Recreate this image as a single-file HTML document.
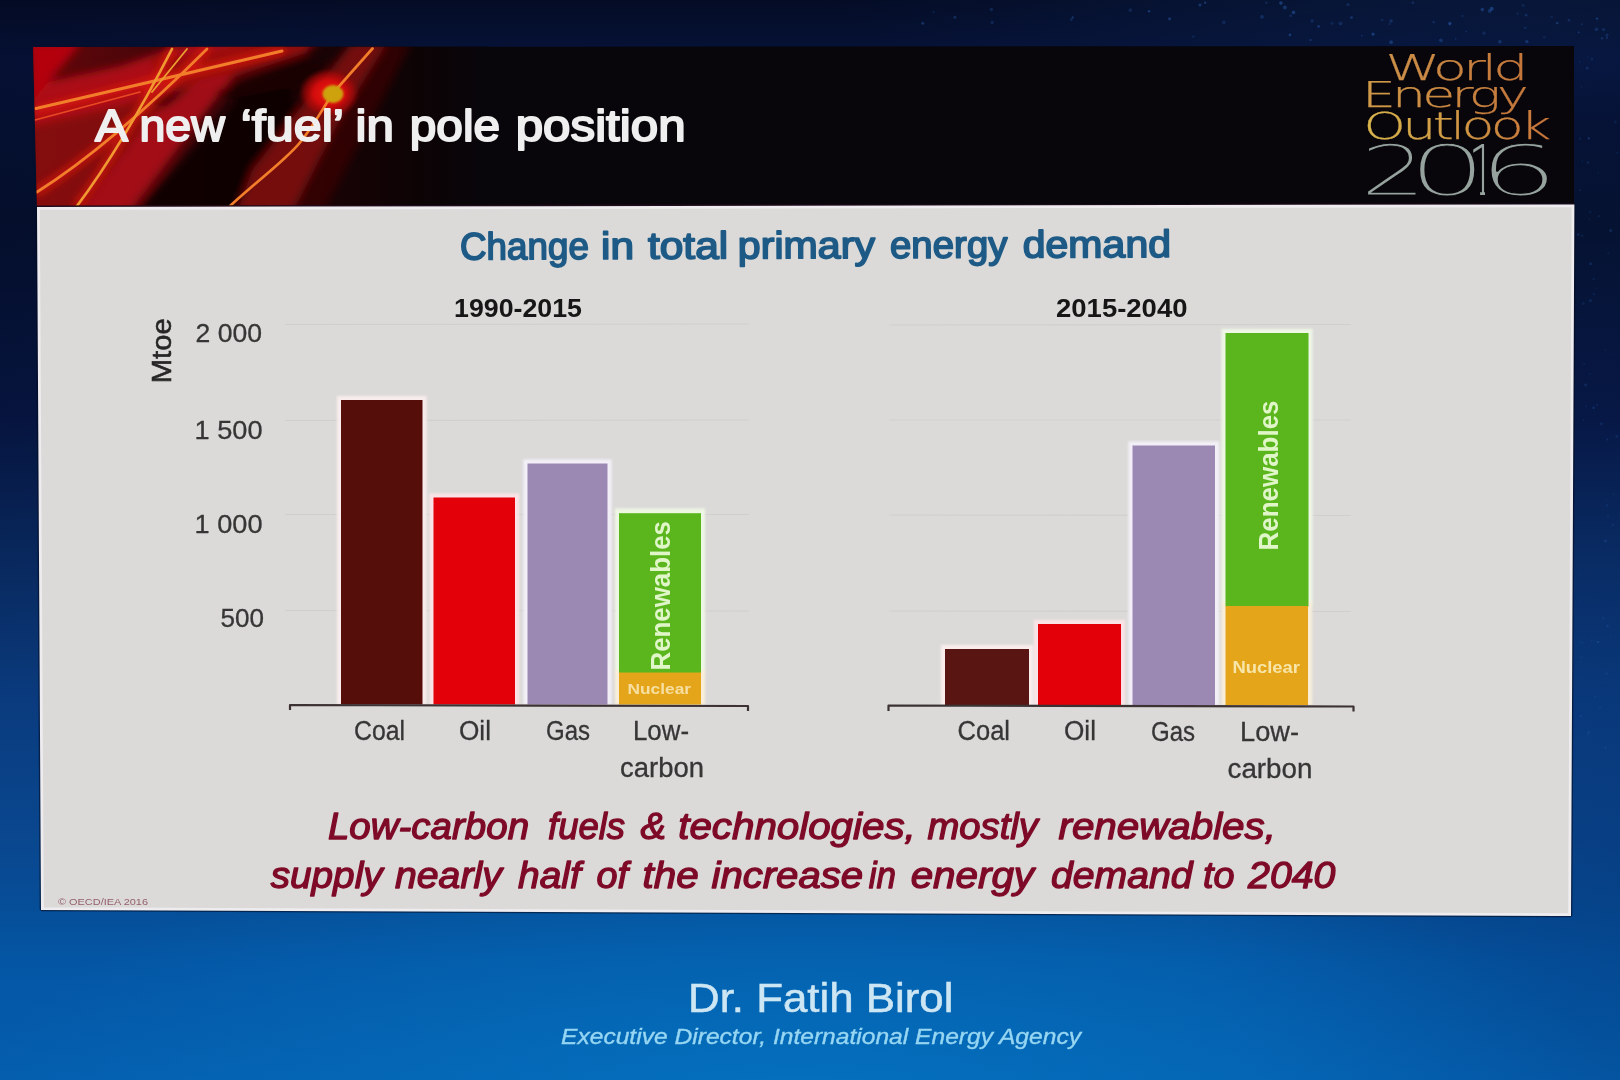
<!DOCTYPE html>
<html lang="en">
<head>
<meta charset="utf-8">
<title>A new 'fuel' in pole position</title>
<style>
html,body{margin:0;padding:0;width:1620px;height:1080px;overflow:hidden;background:#0a2a66;}
#stage{position:absolute;left:0;top:0;width:1620px;height:1080px;overflow:hidden;
  background:
    radial-gradient(ellipse 820px 300px at 800px 1110px, rgba(4,124,200,.62), rgba(4,124,200,0) 100%),
    radial-gradient(ellipse 500px 400px at 1700px 900px, rgba(4,40,100,.35), rgba(4,40,100,0) 100%),
    radial-gradient(ellipse 700px 150px at 1500px -30px, rgba(16,48,104,.36), rgba(16,48,104,0) 100%),
    radial-gradient(ellipse 500px 500px at -60px 200px, rgba(2,6,30,.35), rgba(2,6,30,0) 100%),
    linear-gradient(180deg,#040c25 0px,#06133a 60px,#051231 220px,#071846 420px,#092c64 560px,#0a3b7e 700px,#094890 850px,#064e98 910px,#0456a4 960px,#045eae 1080px);
}
svg{position:absolute;left:0;top:0;filter:blur(.55px);}
text{font-family:"Liberation Sans",sans-serif;}
.b{font-weight:700;}
.cat{font-size:27px;fill:#363636;stroke:#363636;stroke-width:.3px;}
.ax{font-size:26px;fill:#363636;stroke:#363636;stroke-width:.3px;}
.yr{font-size:26px;font-weight:700;fill:#161616;}
.cap{font-size:36px;font-style:italic;fill:#7e0a28;stroke:#7e0a28;stroke-width:1.3px;stroke-linejoin:round;}
.logo{font-family:"DejaVu Sans Light","DejaVu Sans",sans-serif;font-weight:200;}
#weo-year{position:absolute;left:0;top:130px;height:82px;line-height:82px;white-space:nowrap;font-family:"DejaVu Sans Light","DejaVu Sans",sans-serif;font-weight:200;font-size:70px;color:#96a29d;-webkit-text-stroke:1.1px #08060b;filter:blur(.75px);}
#weo-year .d{display:inline-block;width:0;transform-origin:0 0;}
#weo-year .d2{transform:translateX(1360px) scaleX(1.5);}
#weo-year .d0{transform:translateX(1408.2px) scaleX(1.76);}
#weo-year .d1{transform:translateX(1468.6px) scaleX(.62);-webkit-text-stroke:0;clip-path:polygon(0px 0px,40px 0px,40px 62px,26.5px 62px,26.5px 82px,18.5px 82px,18.5px 62px,0px 62px);}
#weo-year .d6{transform:translateX(1478.3px) scaleX(1.81);}
</style>
</head>
<body>
<div id="stage">
<svg width="1620" height="1080" viewBox="0 0 1620 1080">
<defs>
  <linearGradient id="hdr" x1="0" y1="0" x2="1" y2="0">
    <stop offset="0" stop-color="#c40f16"/>
    <stop offset="0.06" stop-color="#b00c12"/>
    <stop offset="0.14" stop-color="#7a0709"/>
    <stop offset="0.22" stop-color="#3a0305"/>
    <stop offset="0.30" stop-color="#0c0406"/>
    <stop offset="1" stop-color="#07060c"/>
  </linearGradient>
  <linearGradient id="logoG" x1="0" y1="0" x2="1" y2="0">
    <stop offset="0" stop-color="#e2b64a"/>
    <stop offset="0.5" stop-color="#dc9a42"/>
    <stop offset="1" stop-color="#d9783a"/>
  </linearGradient>
  <linearGradient id="lgW" gradientUnits="userSpaceOnUse" x1="1388" y1="0" x2="1524" y2="0"><stop offset="0" stop-color="#cc9048"/><stop offset="1" stop-color="#c4763a"/></linearGradient>
  <linearGradient id="lgE" gradientUnits="userSpaceOnUse" x1="1366" y1="0" x2="1524" y2="0"><stop offset="0" stop-color="#d09a48"/><stop offset="1" stop-color="#c4763a"/></linearGradient>
  <linearGradient id="lgO" gradientUnits="userSpaceOnUse" x1="1367" y1="0" x2="1547" y2="0"><stop offset="0" stop-color="#d8b44c"/><stop offset="0.5" stop-color="#d09844"/><stop offset="1" stop-color="#c8743a"/></linearGradient>
  <radialGradient id="glow" cx="0.5" cy="0.5" r="0.5">
    <stop offset="0" stop-color="#f01a10" stop-opacity="1"/>
    <stop offset="0.5" stop-color="#d80c0c" stop-opacity=".95"/>
    <stop offset="0.78" stop-color="#b00808" stop-opacity=".6"/>
    <stop offset="1" stop-color="#800606" stop-opacity="0"/>
  </radialGradient>
  <linearGradient id="hbase" x1="0" y1="0" x2="1" y2="0">
    <stop offset="0" stop-color="#66060a"/>
    <stop offset="0.3" stop-color="#420509"/>
    <stop offset="0.6" stop-color="#1c0305"/>
    <stop offset="0.85" stop-color="#0c0305"/>
    <stop offset="1" stop-color="#08060b"/>
  </linearGradient>
  <filter id="blur5" x="-10%" y="-10%" width="120%" height="120%"><feGaussianBlur stdDeviation="4"/></filter>
  <filter id="blur1h" x="-10%" y="-10%" width="120%" height="120%"><feGaussianBlur stdDeviation="1.1"/></filter>
  <filter id="blur1" x="-10%" y="-10%" width="120%" height="120%"><feGaussianBlur stdDeviation="0.6"/></filter>
  <clipPath id="oneclip"><polygon points="0,-60 40,-60 40,-8 26.5,-8 26.5,2 18.5,2 18.5,-8 0,-8"/></clipPath>
  <clipPath id="hclip"><polygon points="33,47 1574,46 1574,206 37,208"/></clipPath>
</defs>

<g id="specks" fill="#2c62b4" filter="url(#blur1)">
  <circle cx="922.8" cy="23.3" r="1.5" opacity="0.38"/>
  <circle cx="1200.0" cy="4.9" r="1.6" opacity="0.40"/>
  <circle cx="1193.3" cy="36.7" r="1.4" opacity="0.18"/>
  <circle cx="1482.3" cy="9.6" r="1.8" opacity="0.42"/>
  <circle cx="1351.5" cy="17.6" r="1.5" opacity="0.35"/>
  <circle cx="1382.1" cy="20.0" r="1.6" opacity="0.20"/>
  <circle cx="1312.1" cy="21.0" r="1.7" opacity="0.26"/>
  <circle cx="1466.3" cy="31.4" r="1.0" opacity="0.26"/>
  <circle cx="992.2" cy="22.5" r="1.7" opacity="0.25"/>
  <circle cx="1373.1" cy="34.1" r="1.7" opacity="0.49"/>
  <circle cx="1526.1" cy="15.2" r="1.4" opacity="0.30"/>
  <circle cx="1318.6" cy="26.4" r="1.4" opacity="0.40"/>
  <circle cx="1499.9" cy="41.7" r="1.7" opacity="0.38"/>
  <circle cx="1523.1" cy="5.4" r="1.6" opacity="0.20"/>
  <circle cx="1517.6" cy="13.7" r="1.1" opacity="0.26"/>
  <circle cx="991.4" cy="9.4" r="1.7" opacity="0.28"/>
  <circle cx="1389.6" cy="23.7" r="1.5" opacity="0.18"/>
  <circle cx="1455.6" cy="38.7" r="1.0" opacity="0.27"/>
  <circle cx="1169.6" cy="18.8" r="1.6" opacity="0.40"/>
  <circle cx="1348.1" cy="4.6" r="1.6" opacity="0.27"/>
  <circle cx="954.9" cy="17.3" r="1.5" opacity="0.33"/>
  <circle cx="1525.3" cy="27.8" r="1.4" opacity="0.22"/>
  <circle cx="1223.9" cy="22.3" r="1.9" opacity="0.24"/>
  <circle cx="1491.7" cy="8.8" r="2.0" opacity="0.48"/>
  <circle cx="1581.8" cy="24.2" r="0.9" opacity="0.33"/>
  <circle cx="1280.9" cy="3.1" r="1.8" opacity="0.49"/>
  <circle cx="1602.1" cy="38.3" r="1.4" opacity="0.27"/>
  <circle cx="1072.7" cy="17.4" r="1.1" opacity="0.48"/>
  <circle cx="1449.7" cy="24.4" r="1.1" opacity="0.37"/>
  <circle cx="1606.9" cy="37.8" r="1.1" opacity="0.35"/>
  <circle cx="1483.9" cy="33.1" r="1.9" opacity="0.22"/>
  <circle cx="1262.0" cy="16.9" r="1.8" opacity="0.34"/>
  <circle cx="1391.1" cy="42.2" r="1.9" opacity="0.41"/>
  <circle cx="1149.1" cy="11.3" r="1.2" opacity="0.47"/>
  <circle cx="1544.4" cy="37.3" r="1.4" opacity="0.19"/>
  <circle cx="1361.9" cy="35.6" r="0.9" opacity="0.34"/>
  <circle cx="1433.6" cy="22.1" r="1.4" opacity="0.28"/>
  <circle cx="1462.4" cy="16.0" r="1.1" opacity="0.29"/>
  <circle cx="1597.1" cy="18.6" r="1.2" opacity="0.45"/>
  <circle cx="1578.7" cy="32.4" r="0.9" opacity="0.42"/>
  <circle cx="1603.5" cy="29.6" r="1.8" opacity="0.22"/>
  <circle cx="1284.9" cy="7.5" r="1.9" opacity="0.41"/>
  <circle cx="1596.5" cy="29.3" r="1.9" opacity="0.27"/>
  <circle cx="1569.0" cy="20.2" r="1.3" opacity="0.31"/>
  <circle cx="1489.7" cy="10.9" r="2.0" opacity="0.37"/>
  <circle cx="1071.4" cy="19.6" r="1.3" opacity="0.32"/>
  <circle cx="1551.6" cy="16.9" r="1.2" opacity="0.20"/>
  <circle cx="1310.5" cy="40.0" r="1.0" opacity="0.45"/>
  <circle cx="1557.3" cy="23.1" r="1.2" opacity="0.48"/>
  <circle cx="1266.3" cy="2.8" r="1.2" opacity="0.27"/>
  <circle cx="1290.7" cy="15.7" r="1.5" opacity="0.24"/>
  <circle cx="1289.9" cy="34.9" r="1.3" opacity="0.49"/>
  <circle cx="1293.5" cy="12.4" r="1.9" opacity="0.44"/>
  <circle cx="1449.9" cy="23.3" r="1.6" opacity="0.47"/>
  <circle cx="1440.9" cy="40.3" r="1.9" opacity="0.36"/>
  <circle cx="1332.0" cy="23.2" r="1.7" opacity="0.20"/>
  <circle cx="1391.2" cy="21.0" r="1.7" opacity="0.32"/>
  <circle cx="1526.9" cy="41.6" r="1.7" opacity="0.39"/>
  <circle cx="933.5" cy="12.1" r="1.2" opacity="0.20"/>
  <circle cx="1130.3" cy="10.2" r="1.9" opacity="0.22"/>
  <circle cx="1412.9" cy="2.8" r="1.4" opacity="0.29"/>
  <circle cx="1205.1" cy="2.8" r="1.2" opacity="0.42"/>
  <circle cx="1340.5" cy="23.5" r="2.0" opacity="0.26"/>
  <circle cx="1607.0" cy="35.1" r="1.6" opacity="0.28"/>
  <circle cx="1582.2" cy="235.6" r="1.2" opacity="0.17"/>
  <circle cx="1579.6" cy="602.2" r="0.9" opacity="0.13"/>
  <circle cx="1588.8" cy="138.5" r="0.9" opacity="0.26"/>
  <circle cx="1594.9" cy="696.7" r="1.1" opacity="0.14"/>
  <circle cx="1610.8" cy="230.6" r="1.5" opacity="0.28"/>
  <circle cx="1584.0" cy="702.3" r="1.1" opacity="0.12"/>
  <circle cx="1600.8" cy="546.1" r="0.9" opacity="0.12"/>
  <circle cx="1581.6" cy="87.1" r="1.0" opacity="0.12"/>
  <circle cx="1605.5" cy="349.7" r="1.0" opacity="0.14"/>
  <circle cx="1580.9" cy="716.0" r="1.2" opacity="0.25"/>
  <circle cx="1603.4" cy="618.4" r="1.4" opacity="0.17"/>
  <circle cx="1581.3" cy="657.3" r="1.1" opacity="0.19"/>
  <circle cx="1580.7" cy="662.0" r="1.0" opacity="0.16"/>
  <circle cx="1596.2" cy="288.2" r="0.8" opacity="0.15"/>
  <circle cx="1600.1" cy="707.6" r="1.6" opacity="0.12"/>
  <circle cx="1588.7" cy="138.3" r="1.2" opacity="0.21"/>
  <circle cx="1599.1" cy="216.2" r="1.4" opacity="0.14"/>
  <circle cx="1582.4" cy="161.3" r="1.0" opacity="0.14"/>
  <circle cx="1580.0" cy="190.1" r="1.0" opacity="0.18"/>
  <circle cx="1590.5" cy="263.8" r="1.5" opacity="0.25"/>
  <circle cx="1608.4" cy="253.0" r="1.5" opacity="0.10"/>
  <circle cx="1598.0" cy="173.0" r="0.7" opacity="0.23"/>
  <circle cx="1591.9" cy="59.0" r="1.5" opacity="0.18"/>
  <circle cx="1588.0" cy="57.0" r="1.2" opacity="0.10"/>
  <circle cx="1607.3" cy="439.4" r="1.0" opacity="0.26"/>
  <circle cx="1585.6" cy="385.0" r="1.4" opacity="0.25"/>
  <circle cx="1615.4" cy="121.9" r="1.6" opacity="0.14"/>
  <circle cx="1610.8" cy="354.6" r="0.8" opacity="0.13"/>
  <circle cx="1597.8" cy="641.9" r="1.2" opacity="0.22"/>
  <circle cx="1593.7" cy="407.8" r="1.5" opacity="0.23"/>
  <circle cx="1605.5" cy="747.5" r="1.3" opacity="0.23"/>
  <circle cx="1591.7" cy="640.3" r="1.1" opacity="0.20"/>
  <circle cx="1606.3" cy="500.1" r="0.7" opacity="0.24"/>
  <circle cx="1594.2" cy="294.2" r="1.0" opacity="0.26"/>
  <circle cx="1580.2" cy="138.7" r="1.3" opacity="0.15"/>
  <circle cx="1580.8" cy="575.0" r="0.8" opacity="0.14"/>
  <circle cx="1588.2" cy="162.6" r="1.3" opacity="0.22"/>
  <circle cx="1581.4" cy="646.7" r="0.8" opacity="0.11"/>
  <circle cx="1612.8" cy="524.8" r="1.2" opacity="0.20"/>
  <circle cx="1589.3" cy="218.9" r="1.0" opacity="0.14"/>
  <circle cx="1589.7" cy="374.0" r="1.3" opacity="0.10"/>
  <circle cx="1584.3" cy="364.3" r="1.0" opacity="0.18"/>
  <circle cx="1588.5" cy="732.7" r="1.6" opacity="0.21"/>
  <circle cx="1616.9" cy="436.6" r="1.5" opacity="0.18"/>
  <circle cx="1587.8" cy="735.5" r="1.0" opacity="0.14"/>
  <circle cx="1590.4" cy="300.6" r="1.6" opacity="0.23"/>
  <circle cx="1578.0" cy="318.5" r="1.0" opacity="0.10"/>
  <circle cx="1597.0" cy="405.0" r="1.1" opacity="0.22"/>
  <circle cx="1586.0" cy="406.4" r="1.1" opacity="0.14"/>
  <circle cx="1578.2" cy="234.6" r="1.3" opacity="0.26"/>
  <circle cx="1581.6" cy="331.3" r="0.9" opacity="0.10"/>
  <circle cx="1579.7" cy="62.1" r="1.0" opacity="0.17"/>
  <circle cx="1590.2" cy="212.2" r="1.4" opacity="0.13"/>
  <circle cx="1601.4" cy="423.8" r="1.4" opacity="0.23"/>
  <circle cx="1608.0" cy="515.5" r="1.2" opacity="0.14"/>
  <circle cx="1606.6" cy="673.7" r="1.6" opacity="0.15"/>
  <circle cx="1593.6" cy="278.9" r="1.4" opacity="0.14"/>
  <circle cx="1617.4" cy="152.7" r="0.9" opacity="0.23"/>
  <circle cx="1607.0" cy="505.3" r="1.0" opacity="0.26"/>
  <circle cx="1579.8" cy="642.4" r="1.1" opacity="0.13"/>
  <circle cx="1613.7" cy="493.9" r="0.9" opacity="0.17"/>
  <circle cx="1607.4" cy="625.9" r="1.3" opacity="0.26"/>
  <circle cx="1583.6" cy="420.0" r="0.9" opacity="0.17"/>
  <circle cx="1598.2" cy="642.1" r="0.9" opacity="0.27"/>
  <circle cx="1610.2" cy="636.1" r="0.9" opacity="0.11"/>
  <circle cx="1601.4" cy="683.5" r="0.8" opacity="0.17"/>
  <circle cx="1605.3" cy="541.0" r="1.5" opacity="0.25"/>
  <circle cx="1587.2" cy="68.2" r="1.4" opacity="0.28"/>
  <circle cx="1583.3" cy="303.5" r="1.5" opacity="0.16"/>
  <circle cx="1582.2" cy="642.8" r="0.9" opacity="0.26"/>
</g>
<!-- slide: header band -->
<polygon points="33,47 1574,46 1574,206 37,208" fill="#08060b"/>
<g id="decor" clip-path="url(#hclip)">
  <rect x="30" y="40" width="460" height="175" fill="url(#hbase)"/>
  <g filter="url(#blur5)">
    <!-- left body -->
    <polygon points="30,120 130,100 175,108 80,214 30,214" fill="#8a0a0f" opacity=".85"/>
    <!-- band A: along the long shallow streak -->
    <polygon points="30,86 30,126 120,106 215,80 300,54 320,42 190,42 120,66" fill="#b00b13" opacity=".95"/>
    <polygon points="150,60 290,42 310,52 215,84 170,92" fill="#8c0a10" opacity=".7"/>
    <!-- top-left wedge -->
    <polygon points="30,42 82,42 30,104" fill="#b4060f"/>
    <!-- band B -->
    <polygon points="78,214 128,214 212,104 238,72 200,80 150,118" fill="#a60c13" opacity=".95"/>
    <!-- dark hollow between A and B top -->
    <polygon points="215,92 300,58 330,64 300,92 250,104" fill="#160305" opacity=".85"/>
    <!-- dark zone between B and C -->
    <polygon points="134,214 236,214 300,110 290,88 236,98" fill="#0e0204" opacity=".95"/>
    <!-- band C -->
    <polygon points="236,214 292,214 340,120 388,42 352,42 300,108 252,170" fill="#7e090d" opacity=".9"/>
    <polygon points="296,214 322,214 412,42 390,42 342,124" fill="#3a0508" opacity=".7"/>
  </g>
  <ellipse cx="329" cy="93" rx="31" ry="25" fill="url(#glow)"/>
  <!-- orange streaks -->
  <g stroke="#e81a10" stroke-width="7" fill="none" stroke-linecap="round" filter="url(#blur5)" opacity=".8">
    <path d="M37,111 L150,82 L282,50"/>
    <path d="M37,192 Q110,146 207,49"/>
    <path d="M77,206 Q122,146 172,49"/>
  </g>
  <g stroke="#f37e2c" stroke-width="2.7" fill="none" stroke-linecap="round" filter="url(#blur1)">
    <path d="M36,108.5 L150,82 L282,51" stroke-width="3"/>
    <path d="M37,192 Q110,146 207,49"/>
    <path d="M77,206 Q122,146 172,49" stroke="#f29a30"/>
    <path d="M152,92 L187,49" stroke="#eaa030" stroke-width="1.8"/>
    <path d="M230,206 C258,180 286,160 300,142.5 S322,110 333,93 L372.5,48.5"/>
    <path d="M35,120 L140,92" stroke="#e84a24" stroke-width="1.6"/>
  </g>
  <ellipse cx="333" cy="94" rx="10.5" ry="9" fill="#cda20e" filter="url(#blur1h)"/>
</g>
<polygon points="37,205.5 1574,203.5 1574,206 37,208" fill="#4a0d14"/>

<!-- slide: white body -->
<polygon points="38.4,208.4 1573,205.8 1569.6,914.6 42.4,908.6" fill="none" stroke="#030c22" stroke-opacity=".6" stroke-width="5.5" stroke-linejoin="round"/>
<polygon points="38.4,208.4 1573,205.8 1569.6,914.6 42.4,908.6" fill="#dbdad8" stroke="#eeecee" stroke-width="2.8"/>

<g id="chart">
  <!-- gridlines -->
  <g stroke="#d0cfce" stroke-width="1.1">
    <line x1="285" y1="324.5" x2="749" y2="324"/>
    <line x1="285" y1="420.5" x2="749" y2="420"/>
    <line x1="285" y1="514.5" x2="749" y2="514.5"/>
    <line x1="285" y1="610.5" x2="749" y2="611"/>
    <line x1="889" y1="325" x2="1351" y2="324.5"/>
    <line x1="889" y1="420" x2="1351" y2="420"/>
    <line x1="889" y1="515" x2="1351" y2="515.5"/>
    <line x1="889" y1="611" x2="1351" y2="611.5"/>
  </g>
  <!-- bar halos (photo sharpening artefact) -->
  <g filter="url(#blur1h)">
    <rect x="336.9" y="395.9" width="89.7" height="308.6" fill="#f8ecec"/>
    <rect x="429.4" y="493.4" width="89.7" height="211.1" fill="#fae3e6"/>
    <rect x="523.4" y="459.4" width="88.2" height="245.1" fill="#f3eff7"/>
    <rect x="614.9" y="508.4" width="90.2" height="166.1" fill="#eef6e4"/>
    <rect x="614.9" y="669.9" width="90.2" height="34.6" fill="#f8eeda"/>
    <rect x="940.9" y="644.9" width="92.2" height="60.1" fill="#f8ecec"/>
    <rect x="1033.9" y="619.9" width="91.2" height="85.1" fill="#fae3e6"/>
    <rect x="1128.4" y="441.4" width="90.7" height="263.6" fill="#f3eff7"/>
    <rect x="1221.4" y="328.9" width="91.2" height="277.6" fill="#eef6e4"/>
    <rect x="1221.4" y="601.9" width="90.7" height="103.1" fill="#f8eeda"/>
  </g>
  <!-- bars -->
  <g>
    <rect x="341" y="400" width="81.5" height="304.5" fill="#560e0a"/>
    <rect x="433.5" y="497.5" width="81.5" height="207" fill="#e30008"/>
    <rect x="527.5" y="463.5" width="80" height="241" fill="#9b88b3"/>
    <rect x="619" y="513.2" width="82" height="160" fill="#5ab61c"/>
    <rect x="619" y="672.5" width="82" height="32" fill="#e4a51b"/>
    <rect x="945" y="649" width="84" height="56" fill="#591512"/>
    <rect x="1038" y="624" width="83" height="81" fill="#e30008"/>
    <rect x="1132.5" y="445.5" width="82.5" height="259.5" fill="#9b88b3"/>
    <rect x="1225.5" y="333" width="83" height="273.5" fill="#5ab61c"/>
    <rect x="1225.5" y="606" width="82.5" height="99" fill="#e4a51b"/>
  </g>
  <!-- axes -->
  <g stroke="#3c3234" stroke-width="2.2" fill="none" stroke-linejoin="round">
    <path d="M290,710 L290,705 L748,706 L748,711"/>
    <path d="M888.5,711 L888.5,705.5 L1353.5,706.5 L1353.5,711.5"/>
  </g>
</g>
<g id="labels">
  <!-- header title -->
  <text y="140.5" class="sb" font-size="44" fill="#efefef" stroke="#efefef" stroke-width="1.9" stroke-linejoin="round"><tspan x="95.0" textLength="30.3" lengthAdjust="spacingAndGlyphs">A</tspan> <tspan x="139.4" textLength="85.4" lengthAdjust="spacingAndGlyphs">new</tspan> <tspan x="240.7" textLength="101.4" lengthAdjust="spacingAndGlyphs">‘fuel’</tspan> <tspan x="355.6" textLength="38.4" lengthAdjust="spacingAndGlyphs">in</tspan> <tspan x="409.8" textLength="90.3" lengthAdjust="spacingAndGlyphs">pole</tspan> <tspan x="515.7" textLength="169.9" lengthAdjust="spacingAndGlyphs">position</tspan></text>
  <!-- WEO logo -->
  <g class="logo" filter="url(#blur1)" stroke-width=".25">
    <text x="1385.5" y="80" font-size="35.5" letter-spacing="-2.5" textLength="139" lengthAdjust="spacingAndGlyphs" class="logo" fill="url(#lgW)" stroke="url(#lgW)">World</text>
    <text x="1362" y="107" font-size="35" letter-spacing="-2.5" textLength="163" lengthAdjust="spacingAndGlyphs" class="logo" fill="url(#lgE)" stroke="url(#lgE)">Energy</text>
    <text x="1363.5" y="138.5" font-size="36.5" letter-spacing="-2.5" textLength="184" lengthAdjust="spacingAndGlyphs" class="logo" fill="url(#lgO)" stroke="url(#lgO)">Outlook</text>
  </g>

  <!-- chart title -->
  <text y="259.5" class="sb" font-size="38" fill="#1e5a86" stroke="#1e5a86" stroke-width="1.7" stroke-linejoin="round" transform="rotate(-0.2 461 259.5)"><tspan x="459.9" textLength="129.1" lengthAdjust="spacingAndGlyphs">Change</tspan> <tspan x="601.0" textLength="33.1" lengthAdjust="spacingAndGlyphs">in</tspan> <tspan x="647.9" textLength="80.4" lengthAdjust="spacingAndGlyphs">total</tspan> <tspan x="737.8" textLength="137.2" lengthAdjust="spacingAndGlyphs">primary</tspan> <tspan x="890.0" textLength="117.5" lengthAdjust="spacingAndGlyphs">energy</tspan> <tspan x="1022.7" textLength="148.4" lengthAdjust="spacingAndGlyphs">demand</tspan></text>
  <text x="454" y="317" class="yr" textLength="128" lengthAdjust="spacingAndGlyphs">1990-2015</text>
  <text x="1056" y="317" class="yr" textLength="131.5" lengthAdjust="spacingAndGlyphs">2015-2040</text>

  <!-- y axis -->
  <text font-size="27" textLength="65" lengthAdjust="spacingAndGlyphs" transform="translate(171 383.3) rotate(-90)" fill="#262626" stroke="#262626" stroke-width=".55">Mtoe</text>
  <text x="195.5" y="342" class="ax" textLength="66.5" lengthAdjust="spacingAndGlyphs">2 000</text>
  <text x="194.5" y="438.5" class="ax" textLength="68" lengthAdjust="spacingAndGlyphs">1 500</text>
  <text x="194.5" y="532.5" class="ax" textLength="68" lengthAdjust="spacingAndGlyphs">1 000</text>
  <text x="220.5" y="627.3" class="ax" textLength="43.5" lengthAdjust="spacingAndGlyphs">500</text>

  <!-- categories left -->
  <text x="354" y="739.5" class="cat" textLength="51" lengthAdjust="spacingAndGlyphs">Coal</text>
  <text x="459" y="739.5" class="cat" textLength="32" lengthAdjust="spacingAndGlyphs">Oil</text>
  <text x="546" y="740" class="cat" textLength="44" lengthAdjust="spacingAndGlyphs">Gas</text>
  <text x="633" y="740" class="cat" textLength="56" lengthAdjust="spacingAndGlyphs">Low-</text>
  <text x="620" y="777" class="cat" textLength="84" lengthAdjust="spacingAndGlyphs">carbon</text>
  <!-- categories right -->
  <text x="957.5" y="740" class="cat" textLength="52.5" lengthAdjust="spacingAndGlyphs">Coal</text>
  <text x="1064" y="740" class="cat" textLength="32" lengthAdjust="spacingAndGlyphs">Oil</text>
  <text x="1151" y="741" class="cat" textLength="44" lengthAdjust="spacingAndGlyphs">Gas</text>
  <text x="1240" y="741" class="cat" textLength="59" lengthAdjust="spacingAndGlyphs">Low-</text>
  <text x="1227.5" y="777.5" class="cat" textLength="85" lengthAdjust="spacingAndGlyphs">carbon</text>

  <!-- in-bar labels -->
  <text class="b" font-size="27" fill="#e0f6c8" textLength="149.5" lengthAdjust="spacingAndGlyphs" transform="translate(669.5 670.5) rotate(-90)">Renewables</text>
  <text class="b" font-size="27.5" fill="#e0f6c8" textLength="150" lengthAdjust="spacingAndGlyphs" transform="translate(1277.5 550.5) rotate(-90)">Renewables</text>
  <text x="627.5" y="694" class="b" font-size="15.5" fill="#f6dfa0" textLength="63.5" lengthAdjust="spacingAndGlyphs">Nuclear</text>
  <text x="1232.5" y="672.5" class="b" font-size="16" fill="#f8e6a8" textLength="67.5" lengthAdjust="spacingAndGlyphs">Nuclear</text>

  <!-- caption -->
  <text y="838.5" class="cap"><tspan x="327.9" textLength="201.2" lengthAdjust="spacingAndGlyphs">Low-carbon</tspan> <tspan x="548.0" textLength="77.0" lengthAdjust="spacingAndGlyphs">fuels</tspan> <tspan x="640.6" textLength="25.5" lengthAdjust="spacingAndGlyphs">&amp;</tspan> <tspan x="678.2" textLength="237.6" lengthAdjust="spacingAndGlyphs">technologies,</tspan> <tspan x="927.5" textLength="110.4" lengthAdjust="spacingAndGlyphs">mostly</tspan> <tspan x="1058.5" textLength="217.4" lengthAdjust="spacingAndGlyphs">renewables,</tspan></text>
  <text y="887.5" class="cap"><tspan x="270.7" textLength="111.9" lengthAdjust="spacingAndGlyphs">supply</tspan> <tspan x="395.0" textLength="106.8" lengthAdjust="spacingAndGlyphs">nearly</tspan> <tspan x="518.0" textLength="62.7" lengthAdjust="spacingAndGlyphs">half</tspan> <tspan x="596.4" textLength="31.5" lengthAdjust="spacingAndGlyphs">of</tspan> <tspan x="642.5" textLength="56.1" lengthAdjust="spacingAndGlyphs">the</tspan> <tspan x="711.5" textLength="151.6" lengthAdjust="spacingAndGlyphs">increase</tspan> <tspan x="868.7" textLength="27.2" lengthAdjust="spacingAndGlyphs">in</tspan> <tspan x="910.7" textLength="123.3" lengthAdjust="spacingAndGlyphs">energy</tspan> <tspan x="1050.9" textLength="141.7" lengthAdjust="spacingAndGlyphs">demand</tspan> <tspan x="1203.0" textLength="31.5" lengthAdjust="spacingAndGlyphs">to</tspan> <tspan x="1248.1" textLength="87.3" lengthAdjust="spacingAndGlyphs">2040</tspan></text>
  <text x="58" y="905" font-size="9" fill="#95606c" textLength="90" lengthAdjust="spacingAndGlyphs" filter="url(#blur1)">© OECD/IEA 2016</text>

  <!-- speaker -->
  <text x="688" y="1012" font-size="40.5" fill="#cde6f4" stroke="#cde6f4" stroke-width=".5" textLength="265.5" lengthAdjust="spacingAndGlyphs">Dr. Fatih Birol</text>
  <text x="561" y="1043.7" font-size="22" font-style="italic" fill="#96d6f2" stroke="#96d6f2" stroke-width=".35" textLength="520" lengthAdjust="spacingAndGlyphs">Executive Director, International Energy Agency</text>
</g>
</svg>
<div id="weo-year"><span class="d d2">2</span><span class="d d0">0</span><span class="d d1">1</span><span class="d d6">6</span></div>
</div>
</body>
</html>
